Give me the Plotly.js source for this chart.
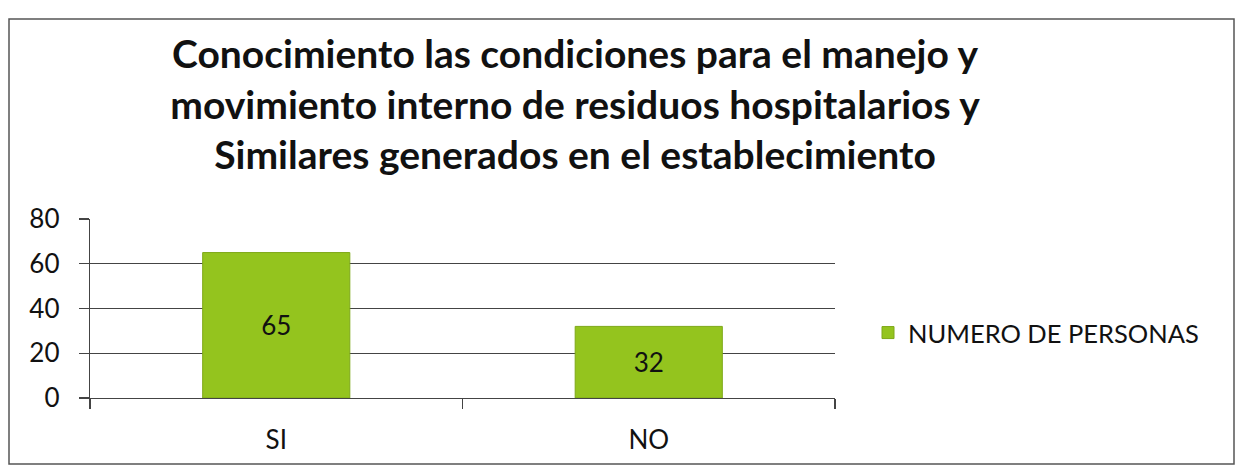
<!DOCTYPE html>
<html>
<head>
<meta charset="utf-8">
<script src="https://cdn.plot.ly/plotly-3.0.1.min.js"></script>
<style>html,body{margin:0;padding:0;background:#fff;}#chart{width:1245px;height:468px;}</style>
</head>
<body>
<div id="chart"></div>
<script>
var categories = ["SI", "NO"];
var values = [65, 32];
var seriesName = "NUMERO DE PERSONAS";
var yTicks = [0, 20, 40, 60, 80];
var titleLines = [
  "Conocimiento las condiciones para el manejo y",
  "movimiento interno de residuos hospitalarios y",
  "Similares generados en el establecimiento"
];

var W = 1245, H = 468;
var mL = 90, mR = 410, mT = 219, mB = 70;
var pw = W - mL - mR, ph = H - mT - mB;
function px(x){ return (x - mL) / pw; }
function py(y){ return (H - mB - y) / ph; }

var trace = {
  type: "bar",
  x: categories,
  y: values,
  name: seriesName,
  width: 0.395,
  marker: { color: "#94c41e", line: { color: "#7ea818", width: 1 } },
  text: values.map(String),
  textposition: "inside",
  insidetextanchor: "middle",
  textangle: 0,
  constraintext: "none",
  textfont: { family: "Lato, sans-serif", size: 26, color: "#111" },
  showlegend: true
};

var layout = {
  width: W, height: H,
  margin: { l: mL, r: mR, t: mT, b: mB, pad: 0 },
  paper_bgcolor: "#fff",
  plot_bgcolor: "#fff",
  font: { family: "Lato, sans-serif", color: "#111" },
  title: {
    text: titleLines.join("<br>"),
    font: { family: "Lato, sans-serif", size: 39, color: "#111", weight: "bold" },
    xref: "container", x: 575 / W, xanchor: "center",
    yref: "container", y: 1 - 68 / H, yanchor: "top"
  },
  xaxis: {
    type: "category",
    showline: true, linecolor: "#444", linewidth: 1.3,
    ticks: "outside", tickson: "boundaries", ticklen: 10, tickcolor: "#444", tickwidth: 1.3,
    showgrid: false,
    tickfont: { family: "Lato, sans-serif", size: 26, color: "#111" },
    ticklabelstandoff: 18
  },
  yaxis: {
    range: [0, 80],
    tickvals: yTicks,
    ticktext: yTicks.map(String),
    showline: true, linecolor: "#444", linewidth: 1.3,
    ticks: "outside", ticklen: 10, tickcolor: "#444", tickwidth: 1.3,
    showgrid: true, gridcolor: "#444", gridwidth: 1.3,
    zeroline: false,
    tickfont: { family: "Lato, sans-serif", size: 26, color: "#111" },
    ticklabelstandoff: 14
  },
  legend: {
    x: px(868), xanchor: "left",
    y: py(333), yanchor: "middle",
    font: { family: "Lato, sans-serif", size: 25.5, color: "#111" },
    bgcolor: "rgba(0,0,0,0)",
    itemwidth: 30
  },
  shapes: [{
    type: "rect", xref: "paper", yref: "paper",
    x0: px(9), x1: px(1234), y0: py(464), y1: py(19),
    line: { color: "#555", width: 1.5 }, fillcolor: "rgba(0,0,0,0)", layer: "below"
  }]
};

Plotly.newPlot("chart", [trace], layout, { displayModeBar: false, staticPlot: true });
</script>
</body>
</html>
